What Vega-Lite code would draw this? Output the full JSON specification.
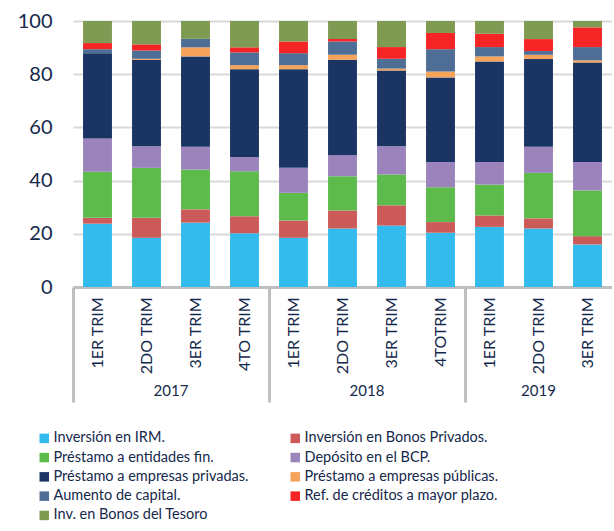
{
  "$schema": "https://vega.github.io/schema/vega-lite/v6.json",
  "width": 539,
  "height": 266,
  "padding": {"top": 11, "left": 17, "right": 0, "bottom": 0},
  "background": "white",
  "config": {"font": "Lato", "view": {"stroke": null}},
  "datasets": {
    "series": [
      {"s": "Inversión en IRM.", "o": 1},
      {"s": "Inversión en Bonos Privados.", "o": 2},
      {"s": "Préstamo a entidades fin.", "o": 3},
      {"s": "Depósito en el BCP.", "o": 4},
      {"s": "Préstamo a empresas privadas.", "o": 5},
      {"s": "Préstamo a empresas públicas.", "o": 6},
      {"s": "Aumento de capital.", "o": 7},
      {"s": "Ref. de créditos a mayor plazo.", "o": 8},
      {"s": "Inv. en Bonos del Tesoro", "o": 9}
    ],
    "bars": [
      {"k": "2017 1ER TRIM", "s": "Inversión en IRM.", "v": 23.8},
      {"k": "2017 1ER TRIM", "s": "Inversión en Bonos Privados.", "v": 2.2},
      {"k": "2017 1ER TRIM", "s": "Préstamo a entidades fin.", "v": 17.3},
      {"k": "2017 1ER TRIM", "s": "Depósito en el BCP.", "v": 12.5},
      {"k": "2017 1ER TRIM", "s": "Préstamo a empresas privadas.", "v": 32.1},
      {"k": "2017 1ER TRIM", "s": "Préstamo a empresas públicas.", "v": 0},
      {"k": "2017 1ER TRIM", "s": "Aumento de capital.", "v": 1.5},
      {"k": "2017 1ER TRIM", "s": "Ref. de créditos a mayor plazo.", "v": 2.3},
      {"k": "2017 1ER TRIM", "s": "Inv. en Bonos del Tesoro", "v": 8.3},

      {"k": "2017 2DO TRIM", "s": "Inversión en IRM.", "v": 18.5},
      {"k": "2017 2DO TRIM", "s": "Inversión en Bonos Privados.", "v": 7.5},
      {"k": "2017 2DO TRIM", "s": "Préstamo a entidades fin.", "v": 18.8},
      {"k": "2017 2DO TRIM", "s": "Depósito en el BCP.", "v": 8.1},
      {"k": "2017 2DO TRIM", "s": "Préstamo a empresas privadas.", "v": 32.5},
      {"k": "2017 2DO TRIM", "s": "Préstamo a empresas públicas.", "v": 0.4},
      {"k": "2017 2DO TRIM", "s": "Aumento de capital.", "v": 3.1},
      {"k": "2017 2DO TRIM", "s": "Ref. de créditos a mayor plazo.", "v": 2.3},
      {"k": "2017 2DO TRIM", "s": "Inv. en Bonos del Tesoro", "v": 8.8},

      {"k": "2017 3ER TRIM", "s": "Inversión en IRM.", "v": 24.2},
      {"k": "2017 3ER TRIM", "s": "Inversión en Bonos Privados.", "v": 5.0},
      {"k": "2017 3ER TRIM", "s": "Préstamo a entidades fin.", "v": 14.9},
      {"k": "2017 3ER TRIM", "s": "Depósito en el BCP.", "v": 8.6},
      {"k": "2017 3ER TRIM", "s": "Préstamo a empresas privadas.", "v": 34.0},
      {"k": "2017 3ER TRIM", "s": "Préstamo a empresas públicas.", "v": 3.4},
      {"k": "2017 3ER TRIM", "s": "Aumento de capital.", "v": 3.2},
      {"k": "2017 3ER TRIM", "s": "Ref. de créditos a mayor plazo.", "v": 0},
      {"k": "2017 3ER TRIM", "s": "Inv. en Bonos del Tesoro", "v": 6.7},

      {"k": "2017 4TO TRIM", "s": "Inversión en IRM.", "v": 20.2},
      {"k": "2017 4TO TRIM", "s": "Inversión en Bonos Privados.", "v": 6.4},
      {"k": "2017 4TO TRIM", "s": "Préstamo a entidades fin.", "v": 16.9},
      {"k": "2017 4TO TRIM", "s": "Depósito en el BCP.", "v": 5.4},
      {"k": "2017 4TO TRIM", "s": "Préstamo a empresas privadas.", "v": 33.0},
      {"k": "2017 4TO TRIM", "s": "Préstamo a empresas públicas.", "v": 1.5},
      {"k": "2017 4TO TRIM", "s": "Aumento de capital.", "v": 4.8},
      {"k": "2017 4TO TRIM", "s": "Ref. de créditos a mayor plazo.", "v": 1.9},
      {"k": "2017 4TO TRIM", "s": "Inv. en Bonos del Tesoro", "v": 9.9},

      {"k": "2018 1ER TRIM", "s": "Inversión en IRM.", "v": 18.5},
      {"k": "2018 1ER TRIM", "s": "Inversión en Bonos Privados.", "v": 6.5},
      {"k": "2018 1ER TRIM", "s": "Préstamo a entidades fin.", "v": 10.4},
      {"k": "2018 1ER TRIM", "s": "Depósito en el BCP.", "v": 9.4},
      {"k": "2018 1ER TRIM", "s": "Préstamo a empresas privadas.", "v": 37.1},
      {"k": "2018 1ER TRIM", "s": "Préstamo a empresas públicas.", "v": 1.5},
      {"k": "2018 1ER TRIM", "s": "Aumento de capital.", "v": 4.5},
      {"k": "2018 1ER TRIM", "s": "Ref. de créditos a mayor plazo.", "v": 4.4},
      {"k": "2018 1ER TRIM", "s": "Inv. en Bonos del Tesoro", "v": 7.7},

      {"k": "2018 2DO TRIM", "s": "Inversión en IRM.", "v": 22.0},
      {"k": "2018 2DO TRIM", "s": "Inversión en Bonos Privados.", "v": 6.8},
      {"k": "2018 2DO TRIM", "s": "Préstamo a entidades fin.", "v": 12.8},
      {"k": "2018 2DO TRIM", "s": "Depósito en el BCP.", "v": 7.9},
      {"k": "2018 2DO TRIM", "s": "Préstamo a empresas privadas.", "v": 35.9},
      {"k": "2018 2DO TRIM", "s": "Préstamo a empresas públicas.", "v": 1.9},
      {"k": "2018 2DO TRIM", "s": "Aumento de capital.", "v": 5.0},
      {"k": "2018 2DO TRIM", "s": "Ref. de créditos a mayor plazo.", "v": 0.9},
      {"k": "2018 2DO TRIM", "s": "Inv. en Bonos del Tesoro", "v": 6.8},

      {"k": "2018 3ER TRIM", "s": "Inversión en IRM.", "v": 23.1},
      {"k": "2018 3ER TRIM", "s": "Inversión en Bonos Privados.", "v": 7.6},
      {"k": "2018 3ER TRIM", "s": "Préstamo a entidades fin.", "v": 11.6},
      {"k": "2018 3ER TRIM", "s": "Depósito en el BCP.", "v": 10.6},
      {"k": "2018 3ER TRIM", "s": "Préstamo a empresas privadas.", "v": 28.5},
      {"k": "2018 3ER TRIM", "s": "Préstamo a empresas públicas.", "v": 0.7},
      {"k": "2018 3ER TRIM", "s": "Aumento de capital.", "v": 3.7},
      {"k": "2018 3ER TRIM", "s": "Ref. de créditos a mayor plazo.", "v": 4.4},
      {"k": "2018 3ER TRIM", "s": "Inv. en Bonos del Tesoro", "v": 9.8},

      {"k": "2018 4TOTRIM", "s": "Inversión en IRM.", "v": 20.4},
      {"k": "2018 4TOTRIM", "s": "Inversión en Bonos Privados.", "v": 4.0},
      {"k": "2018 4TOTRIM", "s": "Préstamo a entidades fin.", "v": 13.1},
      {"k": "2018 4TOTRIM", "s": "Depósito en el BCP.", "v": 9.5},
      {"k": "2018 4TOTRIM", "s": "Préstamo a empresas privadas.", "v": 31.8},
      {"k": "2018 4TOTRIM", "s": "Préstamo a empresas públicas.", "v": 2.2},
      {"k": "2018 4TOTRIM", "s": "Aumento de capital.", "v": 8.4},
      {"k": "2018 4TOTRIM", "s": "Ref. de créditos a mayor plazo.", "v": 6.1},
      {"k": "2018 4TOTRIM", "s": "Inv. en Bonos del Tesoro", "v": 4.5},

      {"k": "2019 1ER TRIM", "s": "Inversión en IRM.", "v": 22.6},
      {"k": "2019 1ER TRIM", "s": "Inversión en Bonos Privados.", "v": 4.3},
      {"k": "2019 1ER TRIM", "s": "Préstamo a entidades fin.", "v": 11.6},
      {"k": "2019 1ER TRIM", "s": "Depósito en el BCP.", "v": 8.5},
      {"k": "2019 1ER TRIM", "s": "Préstamo a empresas privadas.", "v": 37.8},
      {"k": "2019 1ER TRIM", "s": "Préstamo a empresas públicas.", "v": 1.9},
      {"k": "2019 1ER TRIM", "s": "Aumento de capital.", "v": 3.5},
      {"k": "2019 1ER TRIM", "s": "Ref. de créditos a mayor plazo.", "v": 5.0},
      {"k": "2019 1ER TRIM", "s": "Inv. en Bonos del Tesoro", "v": 4.8},

      {"k": "2019 2DO TRIM", "s": "Inversión en IRM.", "v": 22.0},
      {"k": "2019 2DO TRIM", "s": "Inversión en Bonos Privados.", "v": 3.8},
      {"k": "2019 2DO TRIM", "s": "Préstamo a entidades fin.", "v": 17.1},
      {"k": "2019 2DO TRIM", "s": "Depósito en el BCP.", "v": 9.8},
      {"k": "2019 2DO TRIM", "s": "Préstamo a empresas privadas.", "v": 33.0},
      {"k": "2019 2DO TRIM", "s": "Préstamo a empresas públicas.", "v": 1.6},
      {"k": "2019 2DO TRIM", "s": "Aumento de capital.", "v": 1.4},
      {"k": "2019 2DO TRIM", "s": "Ref. de créditos a mayor plazo.", "v": 4.5},
      {"k": "2019 2DO TRIM", "s": "Inv. en Bonos del Tesoro", "v": 6.8},

      {"k": "2019 3ER TRIM", "s": "Inversión en IRM.", "v": 16.0},
      {"k": "2019 3ER TRIM", "s": "Inversión en Bonos Privados.", "v": 3.1},
      {"k": "2019 3ER TRIM", "s": "Préstamo a entidades fin.", "v": 17.2},
      {"k": "2019 3ER TRIM", "s": "Depósito en el BCP.", "v": 10.7},
      {"k": "2019 3ER TRIM", "s": "Préstamo a empresas privadas.", "v": 37.4},
      {"k": "2019 3ER TRIM", "s": "Préstamo a empresas públicas.", "v": 0.8},
      {"k": "2019 3ER TRIM", "s": "Aumento de capital.", "v": 5.0},
      {"k": "2019 3ER TRIM", "s": "Ref. de créditos a mayor plazo.", "v": 7.4},
      {"k": "2019 3ER TRIM", "s": "Inv. en Bonos del Tesoro", "v": 2.4}
    ],
    "years": [
      {"year": "2017", "k": "2017 3ER TRIM"},
      {"year": "2018", "k": "2018 3ER TRIM"},
      {"year": "2019", "k": "2019 2DO TRIM"}
    ]
  },
  "layer": [
    {
      "data": {"name": "bars"},
      "transform": [
        {"lookup": "s", "from": {"data": {"name": "series"}, "key": "s", "fields": ["o"]}}
      ],
      "mark": {"type": "bar", "width": {"band": 0.59}},
      "encoding": {
        "x": {
          "field": "k", "type": "nominal", "sort": null,
          "scale": {"paddingInner": 0, "paddingOuter": 0},
          "axis": {
            "title": null,
            "labelExpr": "datum.value ? substring(datum.value, 5) : ''",
            "labelAngle": -90,
            "labelFontSize": 16,
            "labelColor": "#14284b",
            "labelPadding": -105,
            "domainColor": "#bfbfbf",
            "domainWidth": 3,
            "tickBand": "extent",
            "tickSize": 115,
            "tickWidth": 3,
            "tickColor": "#bfbfbf",
            "tickOpacity": {"condition": {"test": "!datum.value || indexof(['2017 4TO TRIM','2018 4TOTRIM'], datum.value) >= 0", "value": 1}, "value": 0}
          }
        },
        "y": {
          "field": "v", "type": "quantitative", "stack": "zero",
          "scale": {"domain": [0, 100]},
          "axis": {
            "title": null, "values": [0, 20, 40, 60, 80, 100],
            "domain": false, "ticks": false,
            "labelFontSize": 20, "labelColor": "#14284b", "labelPadding": 21,
            "gridColor": "#d9d9d9", "gridWidth": 2
          }
        },
        "order": {"field": "o", "type": "quantitative", "sort": "ascending"},
        "color": {
          "field": "s", "type": "nominal",
          "scale": {
            "domain": ["Inversión en IRM.", "Inversión en Bonos Privados.", "Préstamo a entidades fin.", "Depósito en el BCP.", "Préstamo a empresas privadas.", "Préstamo a empresas públicas.", "Aumento de capital.", "Ref. de créditos a mayor plazo.", "Inv. en Bonos del Tesoro"],
            "range": ["#33bbee", "#cc5a58", "#5dbb4c", "#9b84bc", "#1a3563", "#f5a25a", "#4f6e96", "#f52525", "#7f9a52"]
          },
          "legend": {
            "title": null, "orient": "none", "legendX": -36, "legendY": 410,
            "direction": "horizontal",
            "columns": 2, "symbolType": "square", "symbolSize": 90,
            "symbolStrokeWidth": 0,
            "labelFontSize": 14.5, "labelColor": "#14284b", "labelLimit": 320,
            "labelOffset": 2, "rowPadding": 4.3, "columnPadding": 39
          }
        }
      }
    },
    {
      "data": {"name": "years"},
      "transform": [{"filter": "datum.year != '2019'"}],
      "mark": {"type": "text", "fontSize": 15, "color": "#14284b", "baseline": "middle", "align": "center"},
      "encoding": {
        "x": {"field": "k", "type": "nominal", "sort": null, "bandPosition": 0},
        "y": {"datum": -39},
        "text": {"field": "year"}
      }
    },
    {
      "data": {"name": "years"},
      "transform": [{"filter": "datum.year == '2019'"}],
      "mark": {"type": "text", "fontSize": 15, "color": "#14284b", "baseline": "middle", "align": "center"},
      "encoding": {
        "x": {"field": "k", "type": "nominal", "sort": null, "bandPosition": 0.5},
        "y": {"datum": -39},
        "text": {"field": "year"}
      }
    }
  ]
}
